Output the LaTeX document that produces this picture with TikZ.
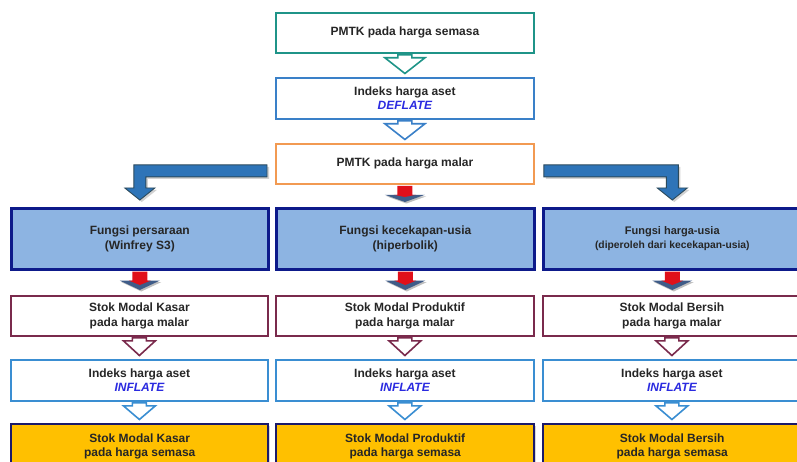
\documentclass[tikz,border=0pt]{standalone}
\usepackage{fontspec}
\setmainfont{Liberation Sans}
\usetikzlibrary{calc,shadows}
\definecolor{txt}{HTML}{262626}
\definecolor{tealb}{HTML}{1F9488}
\definecolor{blueb}{HTML}{3A80C8}
\definecolor{orangeb}{HTML}{F29A52}
\definecolor{navy}{HTML}{0D1A8A}
\definecolor{bluefill}{HTML}{8DB4E2}
\definecolor{maroon}{HTML}{7A2A4C}
\definecolor{lblue}{HTML}{3A8ED2}
\definecolor{gold}{HTML}{FFC000}
\definecolor{darknavy}{HTML}{1B1A6A}
\definecolor{infl}{HTML}{2A2AE0}
\definecolor{bentfill}{HTML}{2E74B8}
\definecolor{bentline}{HTML}{2C4A5C}
\definecolor{redarr}{HTML}{E0101A}
\definecolor{headdark}{HTML}{3F5C88}
\newcommand\hollowarr[4]{% from, to, colour, head half width
  \path let \p1=(#1.south), \p2=(#2.north) in
  [draw=#3, line width=1.6pt, fill=white, line join=miter]
  ({\x1-7pt},{\y1-1pt}) -- ({\x1-7pt},{\y1-4pt}) -- ({\x1-#4},{\y1-4pt}) --
  (\x1,{\y2+3.5pt}) -- ({\x1+#4},{\y1-4pt}) -- ({\x1+7pt},{\y1-4pt}) --
  ({\x1+7pt},{\y1-1pt}) -- cycle;}
\newcommand\redarrow[2]{%
  \path let \p1=(#1.south), \p2=(#2.north) in
  [fill=black, opacity=0.25]
  ({\x1-20pt+1.5pt},{\y1-10pt-1.5pt}) -- ({\x1+1.5pt},{\y2+5pt-1.5pt}) -- ({\x1+20pt+1.5pt},{\y1-10pt-1.5pt}) -- cycle;
  \path let \p1=(#1.south), \p2=(#2.north) in
  [fill=headdark]
  ({\x1-20pt},{\y1-10pt}) -- (\x1,{\y2+5pt}) -- ({\x1+20pt},{\y1-10pt}) -- cycle;
  \path let \p1=(#1.south), \p2=(#2.north) in
  [fill=redarr]
  ({\x1-7.5pt},{\y1-1pt}) -- ({\x1-7.5pt},{\y1-10pt}) -- ({\x1-11pt},{\y1-10pt}) --
  (\x1,{\y2+10pt}) -- ({\x1+11pt},{\y1-10pt}) -- ({\x1+7.5pt},{\y1-10pt}) --
  ({\x1+7.5pt},{\y1-1pt}) -- cycle;}
\begin{document}
\begin{tikzpicture}[x=1pt,y=-1pt,
  base/.style={rectangle, inner sep=0pt, align=center, anchor=north west,
    font=\bfseries\fontsize{12}{14.5}\selectfont, text=txt, fill=white,
    minimum width=258pt},
  tealbox/.style={base, draw=tealb, line width=1.8pt, minimum height=40pt},
  bluebox/.style={base, draw=blueb, line width=1.8pt, minimum height=41pt},
  orangebox/.style={base, draw=orangeb, line width=1.8pt, minimum height=40pt},
  funcbox/.style={base, draw=navy, line width=2.6pt, fill=bluefill, minimum height=61pt,
    drop shadow={opacity=0.3, shadow xshift=1.5pt, shadow yshift=-1.5pt}},
  stokbox/.style={base, draw=maroon, line width=1.8pt, minimum height=40pt},
  idxbox/.style={base, draw=lblue, line width=1.8pt, minimum height=41pt},
  finalbox/.style={base, draw=darknavy, line width=2.4pt, fill=gold, minimum height=44pt,
    drop shadow={opacity=0.3, shadow xshift=1.5pt, shadow yshift=-1.5pt}},
  bent/.style={fill=bentfill, draw=bentline, line width=0.9pt, line join=miter,
    drop shadow={opacity=0.35, shadow xshift=2pt, shadow yshift=-2pt}}
]
\useasboundingbox (0,0) rectangle (797,462);
\clip (0,0) rectangle (797,462);
\fill[white] (0,0) rectangle (797,462);

% top column
\node[tealbox] (p1) at (275,12) {PMTK pada harga semasa};
\node[bluebox] (p2) at (275,77) {Indeks harga aset\\{\color{infl}\itshape DEFLATE}};
\node[orangebox] (p3) at (275,143) {PMTK pada harga malar};

% function row
\node[funcbox, minimum width=257pt] (f1) at (10,207) {Fungsi persaraan\\(Winfrey S3)};
\node[funcbox] (f2) at (275,207) {Fungsi kecekapan-usia\\(hiperbolik)};
\node[funcbox, font=\bfseries\fontsize{11}{14}\selectfont] (f3) at (542,207) {Fungsi harga-usia\\{\fontsize{10.3}{14}\selectfont(diperoleh dari kecekapan-usia)}};

% stok malar
\node[stokbox, minimum width=257pt] (s1) at (10,295) {Stok Modal Kasar\\pada harga malar};
\node[stokbox] (s2) at (275,295) {Stok Modal Produktif\\pada harga malar};
\node[stokbox] (s3) at (542,295) {Stok Modal Bersih\\pada harga malar};

% indeks
\node[idxbox, minimum width=257pt] (i1) at (10,359) {Indeks harga aset\\{\color{infl}\itshape INFLATE}};
\node[idxbox] (i2) at (275,359) {Indeks harga aset\\{\color{infl}\itshape INFLATE}};
\node[idxbox] (i3) at (542,359) {Indeks harga aset\\{\color{infl}\itshape INFLATE}};

% final
\node[finalbox, minimum width=257pt] (g1) at (10,423) {Stok Modal Kasar\\pada harga semasa};
\node[finalbox] (g2) at (275,423) {Stok Modal Produktif\\pada harga semasa};
\node[finalbox] (g3) at (542,423) {Stok Modal Bersih\\pada harga semasa};

% hollow arrows top
\hollowarr{p1}{p2}{tealb}{20pt}
\hollowarr{p2}{p3}{blueb}{20pt}

% bent arrows
\path let \p1=(p3.west), \p2=(f1.north) in
  [bent] ({\x1-8pt},{\y1-1pt}) -- ({\x2-6pt},{\y1-1pt}) -- ({\x2-6pt},{\y2+19pt}) --
  ({\x2-15pt},{\y2+19pt}) -- (\x2,{\y2+7pt}) -- ({\x2+15pt},{\y2+19pt}) --
  ({\x2+6pt},{\y2+19pt}) -- ({\x2+6pt},{\y1-13pt}) -- ({\x1-8pt},{\y1-13pt}) -- cycle;
\path let \p1=(p3.east), \p2=(f3.north) in
  [bent] ({\x1+9pt},{\y1-1pt}) -- ({\x2+6pt},{\y1-1pt}) -- ({\x2+6pt},{\y2+19pt}) --
  ({\x2+15pt},{\y2+19pt}) -- (\x2,{\y2+7pt}) -- ({\x2-15pt},{\y2+19pt}) --
  ({\x2-6pt},{\y2+19pt}) -- ({\x2-6pt},{\y1-13pt}) -- ({\x1+9pt},{\y1-13pt}) -- cycle;

% red arrows
\redarrow{p3}{f2}
\redarrow{f1}{s1}
\redarrow{f2}{s2}
\redarrow{f3}{s3}

% lower hollow arrows
\hollowarr{s1}{i1}{maroon}{16pt}
\hollowarr{s2}{i2}{maroon}{16pt}
\hollowarr{s3}{i3}{maroon}{16pt}
\hollowarr{i1}{g1}{lblue}{16pt}
\hollowarr{i2}{g2}{lblue}{16pt}
\hollowarr{i3}{g3}{lblue}{16pt}
\end{tikzpicture}
\end{document}
